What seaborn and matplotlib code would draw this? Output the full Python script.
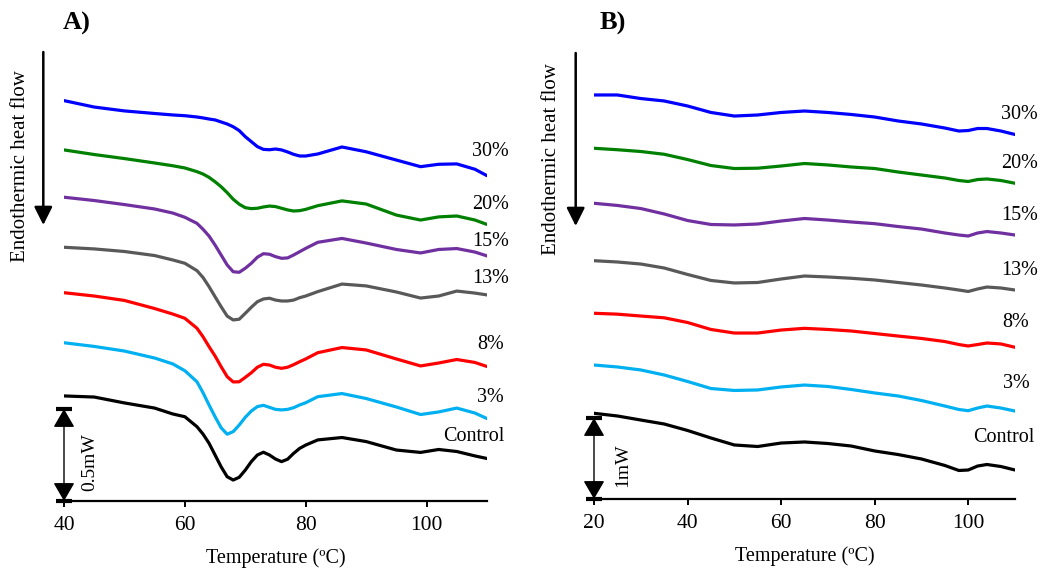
import numpy as np
import pandas as pd
import matplotlib
matplotlib.use("Agg")
import matplotlib.pyplot as plt
import seaborn as sns

# ---------------- data ----------------
samples = ["30%", "20%", "15%", "13%", "8%", "3%", "Control"]
colors = ["#0000FF", "#008000", "#7030A0", "#595959", "#FF0000", "#00B0F0", "#000000"]

# Panel A (heat flow, mW, stacked)
A_T = [40, 45, 50, 55, 58, 60, 62, 63, 64, 65, 66, 67, 68, 69, 70, 71, 72, 73, 74, 75,
       76, 77, 78, 79, 80, 82, 86, 90, 95, 99, 102, 105, 108, 110]
a_30 = [2.176, 2.141, 2.120, 2.106, 2.098, 2.094, 2.087, 2.082, 2.076, 2.071,
        2.060, 2.049, 2.034, 2.013, 1.980, 1.953, 1.926, 1.911, 1.909, 1.913,
        1.908, 1.897, 1.884, 1.875, 1.875, 1.886, 1.924, 1.898, 1.853, 1.817,
        1.830, 1.832, 1.803, 1.768]
a_20 = [1.908, 1.883, 1.861, 1.837, 1.822, 1.810, 1.790, 1.777, 1.759, 1.735,
        1.708, 1.676, 1.640, 1.613, 1.594, 1.589, 1.591, 1.598, 1.603, 1.600,
        1.591, 1.582, 1.576, 1.578, 1.585, 1.605, 1.631, 1.614, 1.554, 1.527,
        1.544, 1.549, 1.527, 1.503]
a_15 = [1.651, 1.633, 1.611, 1.587, 1.565, 1.542, 1.509, 1.477, 1.440, 1.391,
        1.337, 1.283, 1.246, 1.243, 1.265, 1.292, 1.325, 1.344, 1.341, 1.328,
        1.319, 1.321, 1.337, 1.355, 1.373, 1.406, 1.427, 1.402, 1.367, 1.348,
        1.367, 1.372, 1.353, 1.332]
a_13 = [1.379, 1.370, 1.356, 1.334, 1.310, 1.292, 1.252, 1.215, 1.165, 1.110,
        1.056, 1.005, 0.984, 0.988, 1.020, 1.053, 1.083, 1.098, 1.102, 1.092,
        1.087, 1.087, 1.092, 1.105, 1.114, 1.138, 1.179, 1.169, 1.136, 1.103,
        1.114, 1.141, 1.130, 1.120]
a_8 = [1.132, 1.114, 1.090, 1.046, 1.016, 0.993, 0.939, 0.893, 0.839, 0.788,
       0.730, 0.676, 0.647, 0.648, 0.672, 0.697, 0.727, 0.743, 0.739, 0.727,
       0.721, 0.727, 0.741, 0.757, 0.772, 0.806, 0.834, 0.821, 0.772, 0.734,
       0.750, 0.769, 0.753, 0.731]
a_3 = [0.860, 0.840, 0.815, 0.777, 0.745, 0.708, 0.648, 0.589, 0.522, 0.458,
       0.398, 0.363, 0.377, 0.413, 0.455, 0.489, 0.513, 0.520, 0.509, 0.498,
       0.495, 0.498, 0.507, 0.522, 0.534, 0.567, 0.584, 0.557, 0.511, 0.470,
       0.484, 0.505, 0.478, 0.448]
a_ctrl = [0.571, 0.565, 0.533, 0.505, 0.473, 0.458, 0.404, 0.364, 0.314, 0.250,
          0.186, 0.132, 0.114, 0.129, 0.168, 0.214, 0.250, 0.265, 0.250, 0.228,
          0.214, 0.227, 0.259, 0.286, 0.304, 0.332, 0.345, 0.323, 0.277, 0.264,
          0.280, 0.269, 0.245, 0.231]

# Panel B (heat flow, mW, stacked)
B_T = [20, 25, 30, 35, 40, 45, 50, 55, 60, 65, 70, 75, 80, 85, 90, 95, 98, 100, 102, 104, 107, 110]
b_30 = [4.988, 4.988, 4.944, 4.914, 4.852, 4.772, 4.728, 4.741, 4.772, 4.790, 4.772, 4.747, 4.716, 4.667, 4.630, 4.580, 4.543, 4.549, 4.574, 4.574, 4.543, 4.500]
b_20 = [4.330, 4.312, 4.290, 4.256, 4.191, 4.117, 4.080, 4.084, 4.111, 4.142, 4.124, 4.099, 4.080, 4.037, 4.000, 3.963, 3.932, 3.920, 3.944, 3.951, 3.932, 3.898]
b_15 = [3.651, 3.624, 3.586, 3.519, 3.438, 3.389, 3.383, 3.395, 3.432, 3.463, 3.444, 3.420, 3.399, 3.364, 3.333, 3.284, 3.259, 3.247, 3.284, 3.302, 3.284, 3.259]
b_13 = [2.942, 2.926, 2.901, 2.852, 2.772, 2.698, 2.667, 2.673, 2.716, 2.753, 2.741, 2.725, 2.704, 2.673, 2.642, 2.605, 2.580, 2.562, 2.593, 2.617, 2.605, 2.580]
b_8 = [2.293, 2.282, 2.259, 2.237, 2.179, 2.093, 2.049, 2.049, 2.086, 2.107, 2.093, 2.074, 2.043, 2.012, 1.982, 1.944, 1.907, 1.889, 1.907, 1.926, 1.914, 1.873]
b_3 = [1.654, 1.630, 1.593, 1.531, 1.451, 1.364, 1.340, 1.346, 1.383, 1.407, 1.389, 1.352, 1.309, 1.272, 1.216, 1.148, 1.105, 1.090, 1.123, 1.148, 1.123, 1.086]
b_ctrl = [1.058, 1.025, 0.975, 0.926, 0.846, 0.753, 0.667, 0.648, 0.691, 0.704, 0.685, 0.654, 0.593, 0.549, 0.494, 0.414, 0.352, 0.358, 0.407, 0.426, 0.401, 0.358]

xticks_A = [40, 60, 80, 100]
xticks_B = [20, 40, 60, 80, 100]

# label anchor points (T, mW)
labels_A = [(110.6, 1.897), (110.6, 1.614), (110.6, 1.413), (110.6, 1.207), (110.6, 0.853), (110.6, 0.560), (107.8, 0.353)]
labels_B = [(111.0, 4.747), (111.0, 4.148), (111.0, 3.500), (111.0, 2.815), (110.2, 2.173), (110.2, 1.423), (107.6, 0.759)]

# ---------------- style ----------------
sns.set_theme(style="white")
plt.rcParams["font.family"] = ["Liberation Serif", "DejaVu Serif"]

W, H = 1042, 577
fig = plt.figure(figsize=(W / 100, H / 100), dpi=100)
axA = fig.add_axes([64 / W, 76 / H, 423 / W, 461 / H])
axB = fig.add_axes([594 / W, 78 / H, 421 / W, 459 / H])


def long_frame(T, series):
    return pd.DataFrame({
        "T": np.tile(T, len(series)),
        "hf": np.concatenate(series),
        "sample": np.repeat(samples, len(T)),
    })


dfA = long_frame(A_T, [a_30, a_20, a_15, a_13, a_8, a_3, a_ctrl])
dfB = long_frame(B_T, [b_30, b_20, b_15, b_13, b_8, b_3, b_ctrl])

for ax, df, xl, ylim, xt, labs, bar, bartxt, bartxt_pos in [
    (axA, dfA, (40, 110), (0, 461 / 184), xticks_A, labels_A, 0.5, "0.5mW", (44.3, 0.21)),
    (axB, dfB, (20, 110), (0, 459 / 81), xticks_B, labels_B, 1.0, "1mW", (26.1, 0.42)),
]:
    sns.lineplot(data=df, x="T", y="hf", hue="sample", hue_order=samples,
                 palette=colors, linewidth=2.3, legend=False, ax=ax,
                 estimator=None, sort=False,
                 solid_joinstyle="round", solid_capstyle="round")
    ax.set_xlim(*xl)
    ax.set_ylim(*ylim)
    ax.set_xticks(xt)
    ax.set_yticks([])
    for s in ["left", "top", "right"]:
        ax.spines[s].set_visible(False)
    ax.spines["bottom"].set_linewidth(1.6)
    ax.spines["bottom"].set_color("black")
    ax.tick_params(axis="x", bottom=True, direction="out", length=4, width=1.4,
                   labelsize=15.5, pad=7, colors="black")
    ax.set_xlabel("Temperature (ºC)", fontsize=14.5, color="black", labelpad=9)
    ax.set_ylabel("")
    ax.patch.set_alpha(0)

    for (tx, ty), lab in zip(labs, samples):
        ax.text(tx, ty, lab, ha="center", va="center", fontsize=14.5,
                color="black", clip_on=False)

    # scale bar
    x0 = xl[0]
    ax.annotate("", xy=(x0, bar), xytext=(x0, 0),
                arrowprops=dict(arrowstyle="<|-|>,head_length=0.95,head_width=0.55",
                                color="black", lw=1.0, shrinkA=0, shrinkB=0),
                annotation_clip=False)
    ax.plot([x0, x0], [0, bar], ls="none", marker="_", ms=11, mew=3,
            color="black", clip_on=False)
    ax.text(bartxt_pos[0], bartxt_pos[1], bartxt, rotation=90, ha="center",
            va="center", fontsize=14, color="black")

# Endothermic arrows and texts
for xa, y0, y1, xt, yt in [(43.3, 525, 352, 21, 166.5), (575.7, 524, 351, 552, 159.5)]:
    fig.add_artist(matplotlib.patches.FancyArrowPatch(
        (xa / W, y0 / H), (xa / W, y1 / H), transform=fig.transFigure,
        arrowstyle="-|>,head_length=1.1,head_width=0.55", mutation_scale=10,
        lw=1.8, color="black", shrinkA=0, shrinkB=0))
    fig.text(xt / W, 1 - yt / H, "Endothermic heat flow", rotation=90,
             ha="center", va="center", fontsize=15, color="black")

fig.text(63 / W, 1 - 23 / H, "A)", fontweight="bold", fontsize=19,
         ha="left", va="center", color="black")
fig.text(600 / W, 1 - 23 / H, "B)", fontweight="bold", fontsize=19,
         ha="left", va="center", color="black")

fig.savefig("out.png", dpi=100)
